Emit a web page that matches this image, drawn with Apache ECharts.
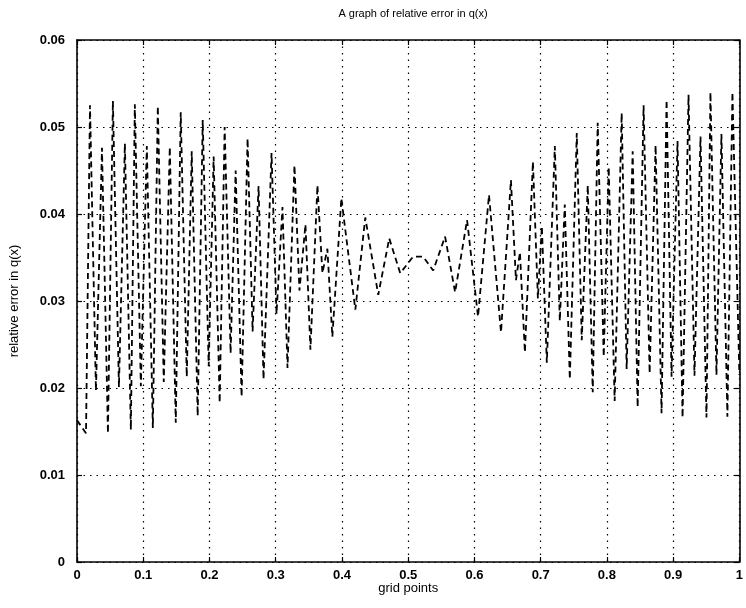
<!DOCTYPE html>
<html>
<head>
<meta charset="utf-8">
<script src="https://cdn.jsdelivr.net/npm/echarts@6/dist/echarts.min.js"></script>
<style>
  html, body { margin: 0; padding: 0; background: #fff; }
  #chart { width: 746px; height: 608px; }
</style>
</head>
<body>
<div id="chart"></div>
<script>
// grid point positions and the relative error of q(x) at each of them
const gridX = [
  0.0000,
  0.0136, 0.0196, 0.0286, 0.0377,
  0.0467, 0.0542, 0.0633, 0.0723,
  0.0813, 0.0873, 0.0964, 0.1054,
  0.1145, 0.1220, 0.1310, 0.1401,
  0.1491, 0.1566, 0.1657, 0.1732,
  0.1822, 0.1898, 0.1988, 0.2063,
  0.2154, 0.2229, 0.2319, 0.2395,
  0.2485, 0.2575, 0.2651, 0.2741,
  0.2816, 0.2937, 0.3012, 0.3102,
  0.3178, 0.3283, 0.3358, 0.3449,
  0.3524, 0.3630, 0.3705, 0.3780,
  0.3855, 0.3991,
  0.4202, 0.4352,
  0.4548, 0.4714,
  0.4880, 0.5075, 0.5226,
  0.5377, 0.5557,
  0.5708, 0.5889,
  0.6054, 0.6220,
  0.6401, 0.6551, 0.6627, 0.6687,
  0.6762, 0.6883, 0.6958, 0.7018,
  0.7093, 0.7214, 0.7289, 0.7364,
  0.7440, 0.7545, 0.7620, 0.7711,
  0.7786, 0.7861, 0.7952, 0.8027,
  0.8117, 0.8223, 0.8298, 0.8389,
  0.8464, 0.8554, 0.8645, 0.8735,
  0.8825, 0.8901, 0.8976, 0.9066,
  0.9142, 0.9232, 0.9322, 0.9413,
  0.9503, 0.9563, 0.9654, 0.9729,
  0.9819, 0.9895, 1.0000
];
const relErr = [
  0.0163,
  0.0148, 0.0525, 0.0197, 0.0476,
  0.0148, 0.0530, 0.0201, 0.0481,
  0.0152, 0.0526, 0.0202, 0.0478,
  0.0154, 0.0524, 0.0207, 0.0477,
  0.0160, 0.0517, 0.0213, 0.0472,
  0.0168, 0.0508, 0.0225, 0.0466,
  0.0183, 0.0500, 0.0240, 0.0450,
  0.0190, 0.0487, 0.0265, 0.0432,
  0.0210, 0.0470, 0.0285, 0.0408,
  0.0223, 0.0456, 0.0312, 0.0388,
  0.0244, 0.0433, 0.0332, 0.0360,
  0.0259, 0.0418,
  0.0290, 0.0396,
  0.0307, 0.0372,
  0.0332, 0.0351, 0.0351,
  0.0335, 0.0374,
  0.0310, 0.0393,
  0.0282, 0.0422,
  0.0264, 0.0439, 0.0324, 0.0356,
  0.0241, 0.0460, 0.0303, 0.0386,
  0.0229, 0.0478, 0.0277, 0.0411,
  0.0210, 0.0493, 0.0255, 0.0433,
  0.0195, 0.0505, 0.0236, 0.0454,
  0.0185, 0.0516, 0.0222, 0.0472,
  0.0178, 0.0525, 0.0217, 0.0479,
  0.0171, 0.0531, 0.0213, 0.0484,
  0.0166, 0.0537, 0.0214, 0.0489,
  0.0166, 0.0540, 0.0215, 0.0492,
  0.0167, 0.0540, 0.0215
];

const xTicks = { min: 0, max: 1, step: 0.1 };
const yTicks = { min: 0, max: 0.06, step: 0.01 };

const chart = echarts.init(document.getElementById('chart'), null, { renderer: 'canvas' });

const fontFamily = '"Liberation Sans", Arial, Helvetica, sans-serif';
const axisLine = { show: true, onZero: false, lineStyle: { color: '#000', width: 1.6 } };
const tick = { show: true, inside: true, length: 5, lineStyle: { color: '#000', width: 1.2 } };
const dotted = { show: true, lineStyle: { color: '#000', type: [1.5, 5], width: 1.2 } };

chart.setOption({
  animation: false,
  backgroundColor: '#fff',
  title: {
    text: 'A graph of relative error in q(x)',
    left: 408,
    textAlign: 'center',
    top: 3,
    textStyle: { fontFamily, fontSize: 11, fontWeight: 'normal', color: '#000' }
  },
  grid: { left: 76, right: 6, top: 40, bottom: 46, containLabel: false },
  xAxis: [
    {
      type: 'value', min: xTicks.min, max: xTicks.max, interval: xTicks.step,
      position: 'bottom',
      name: 'grid points', nameLocation: 'middle', nameGap: 20,
      nameMoveOverlap: false,
      nameTextStyle: { fontFamily, fontSize: 13, color: '#000' },
      axisLine, axisTick: tick, splitLine: dotted,
      axisLabel: { fontFamily, fontSize: 13, fontWeight: 'bold', color: '#000', margin: 7 }
    },
    {
      type: 'value', min: xTicks.min, max: xTicks.max, interval: xTicks.step,
      position: 'top',
      axisLine, axisTick: tick, splitLine: { show: false }, axisLabel: { show: false }
    }
  ],
  yAxis: [
    {
      type: 'value', min: yTicks.min, max: yTicks.max, interval: yTicks.step,
      position: 'left',
      name: 'relative error in q(x)', nameLocation: 'middle', nameGap: 56,
      nameMoveOverlap: false,
      nameTextStyle: { fontFamily, fontSize: 13, color: '#000' },
      axisLine, axisTick: tick, splitLine: dotted,
      axisLabel: { fontFamily, fontSize: 13, fontWeight: 'bold', color: '#000', margin: 12 }
    },
    {
      type: 'value', min: yTicks.min, max: yTicks.max, interval: yTicks.step,
      position: 'right',
      axisLine, axisTick: tick, splitLine: { show: false }, axisLabel: { show: false }
    }
  ],
  series: [
    {
      type: 'line',
      data: gridX.map((x, i) => [x, relErr[i]]),
      showSymbol: false,
      lineStyle: { color: '#000', width: 1.8, type: [6, 4] },
      silent: true
    }
  ]
});
</script>
</body>
</html>
